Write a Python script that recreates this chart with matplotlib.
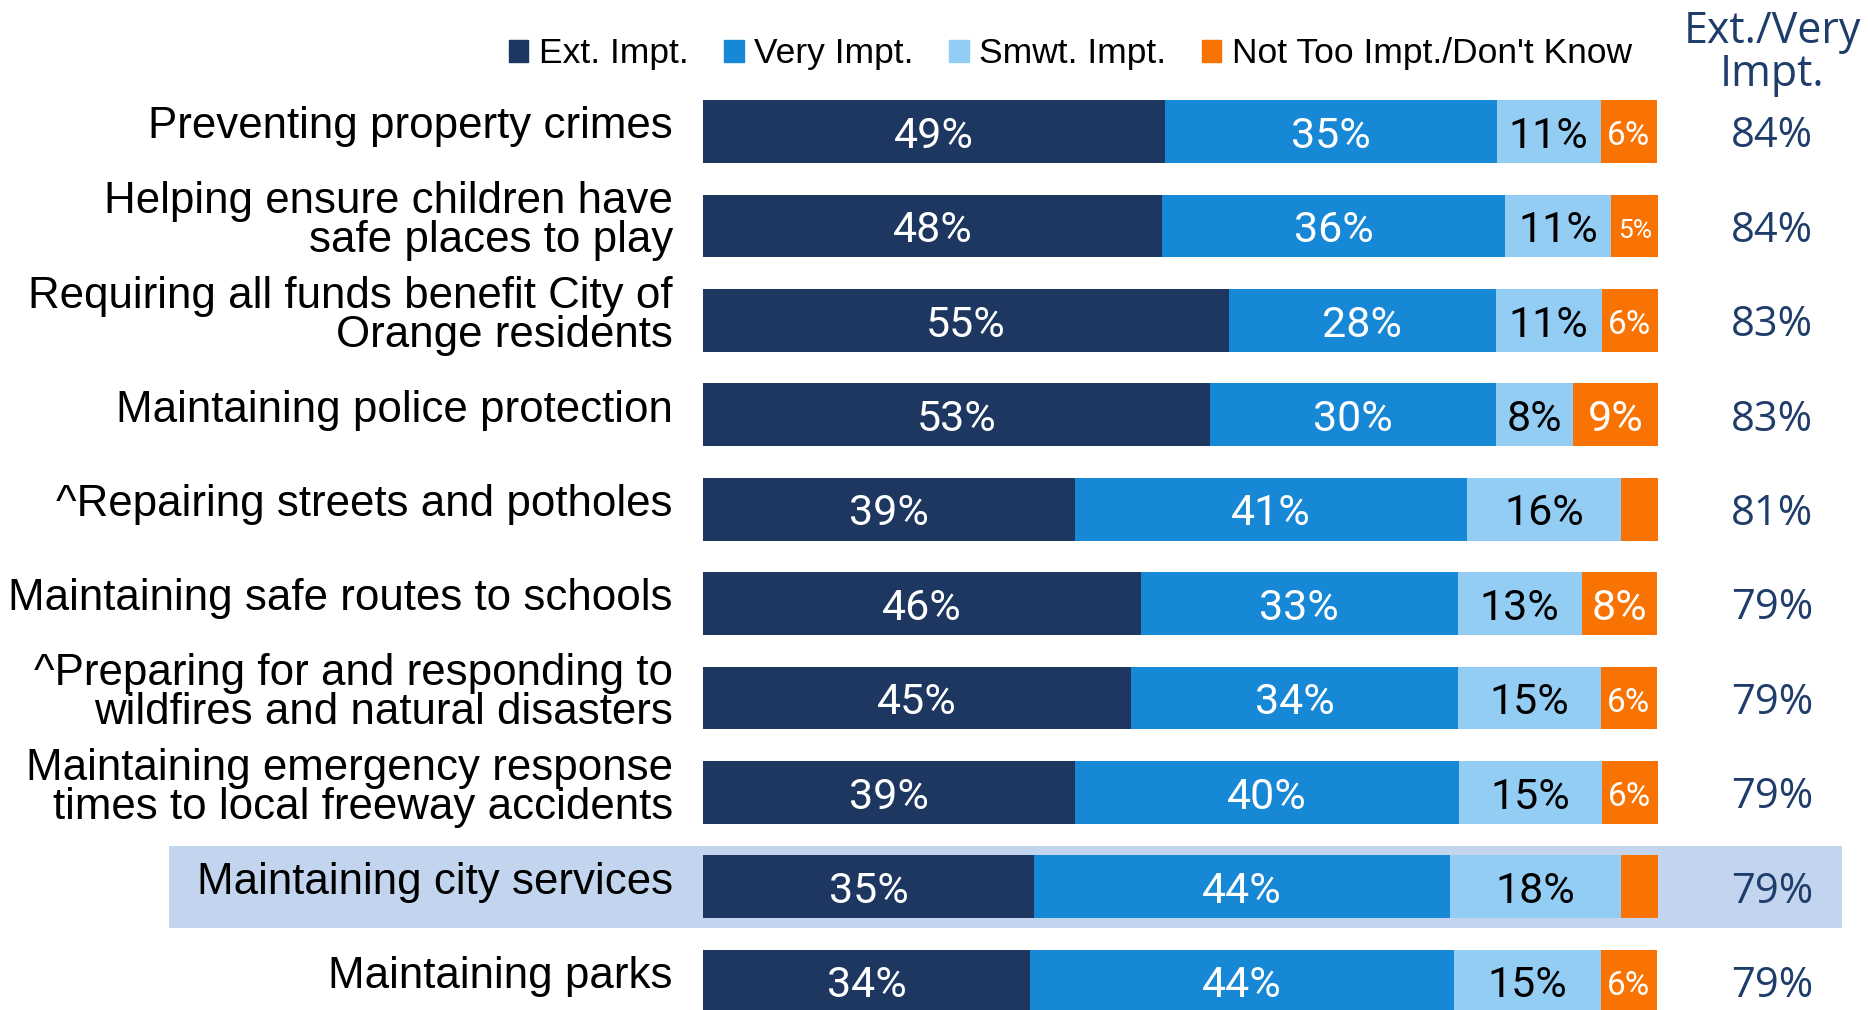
import matplotlib
matplotlib.use("Agg")
import matplotlib.pyplot as plt
from matplotlib import font_manager
from matplotlib.patches import Patch

# fonts: pick what is installed
nomi = {f.name for f in font_manager.fontManager.ttflist}
def scegli(*cands):
    return next((c for c in cands if c in nomi), 'DejaVu Sans')

font_cat = scegli('Liberation Sans', 'Arial', 'DejaVu Sans')
font_bar = scegli('Roboto', 'Open Sans', 'DejaVu Sans')
font_tot = scegli('Open Sans', 'Noto Sans', 'DejaVu Sans')

# data
categorie = [
    'Preventing property crimes',
    'Helping ensure children have\nsafe places to play',
    'Requiring all funds benefit City of\nOrange residents',
    'Maintaining police protection',
    '^Repairing streets and potholes',
    'Maintaining safe routes to schools',
    '^Preparing for and responding to\nwildfires and natural disasters',
    'Maintaining emergency response\ntimes to local freeway accidents',
    'Maintaining city services',
    'Maintaining parks',
]
ext_impt = [48.4, 48.1, 55.1, 53.1, 39.0, 45.9, 44.9, 39.0, 34.7, 34.3]
very_impt = [34.8, 36.0, 28.0, 30.0, 41.1, 33.2, 34.2, 40.2, 43.6, 44.4]
smwt_impt = [10.9, 11.1, 11.1, 8.1, 16.1, 13.0, 15.0, 15.0, 17.9, 15.4]
not_too = [5.9, 4.9, 5.9, 8.9, 3.9, 7.9, 5.9, 5.9, 3.9, 5.9]

ext_lbl = [49, 48, 55, 53, 39, 46, 45, 39, 35, 34]
very_lbl = [35, 36, 28, 30, 41, 33, 34, 40, 44, 44]
smwt_lbl = [11, 11, 11, 8, 16, 13, 15, 15, 18, 15]
not_lbl = [6, 5, 6, 9, None, 8, 6, 6, None, 6]
ext_very = [84, 84, 83, 83, 81, 79, 79, 79, 79, 79]

serie_nomi = ['Ext. Impt.', 'Very Impt.', 'Smwt. Impt.', "Not Too Impt./Don't Know"]
colori = ['#1D3760', '#1788D6', '#93CDF4', '#F97303']
col_testo = ['white', 'white', 'black', 'white']
riga_evidenziata = 8

fig = plt.figure(figsize=(18.68, 10.10), dpi=100)
ax = fig.add_axes([0, 0, 1, 1])
ax.set_xlim(-73.69, 122.12)
ax.set_ylim(9.305, -1.394)
ax.axis('off')

y = list(range(len(categorie)))

# highlighted row band
ax.barh(riga_evidenziata, 175.4, left=-56.0, height=0.87, color='#C3D4EE', zorder=0)

valori = [ext_impt, very_impt, smwt_impt, not_too]
etichette = [ext_lbl, very_lbl, smwt_lbl, not_lbl]
sinistra = [0.0] * len(categorie)
for s in range(4):
    ax.barh(y, valori[s], left=sinistra, height=0.667, color=colori[s],
            label=serie_nomi[s], zorder=2)
    for i in y:
        lab = etichette[s][i]
        if lab is not None:
            v = valori[s][i]
            fs = 31 if v >= 7 else (24 if v >= 5.5 else 19)
            ax.text(sinistra[i] + v / 2, i + 0.05, f'{lab}%', ha='center', va='center',
                    color=col_testo[s], fontsize=fs, family=font_bar, zorder=3)
        sinistra[i] += valori[s][i]

# category labels
for i, c in enumerate(categorie):
    ax.text(-3.15, i - 0.05, c, ha='right', va='center', fontsize=31.6,
            family=font_cat, linespacing=0.93, color='black')

# right column
ax.text(112.1, -0.83, 'Ext./Very\nImpt.', ha='center', va='center', fontsize=31,
        family=font_tot, color='#1F3D6B', linespacing=0.95)
for i, t in enumerate(ext_very):
    ax.text(112.1, i + 0.05, f'{t}%', ha='center', va='center', fontsize=30,
            family=font_tot, color='#1F3D6B')

# legend
handles = [Patch(color=colori[s], label=serie_nomi[s]) for s in range(4)]
leg = fig.legend(handles=handles, loc='center left', bbox_to_anchor=(509 / 1868, 1 - 54 / 1010),
                 ncol=4, frameon=False, handlelength=0.55, handleheight=0.55,
                 handletextpad=0.3, columnspacing=1.0, borderpad=0, borderaxespad=0,
                 prop={'family': font_cat, 'size': 25.5})

fig.savefig('out.png', dpi=100)
